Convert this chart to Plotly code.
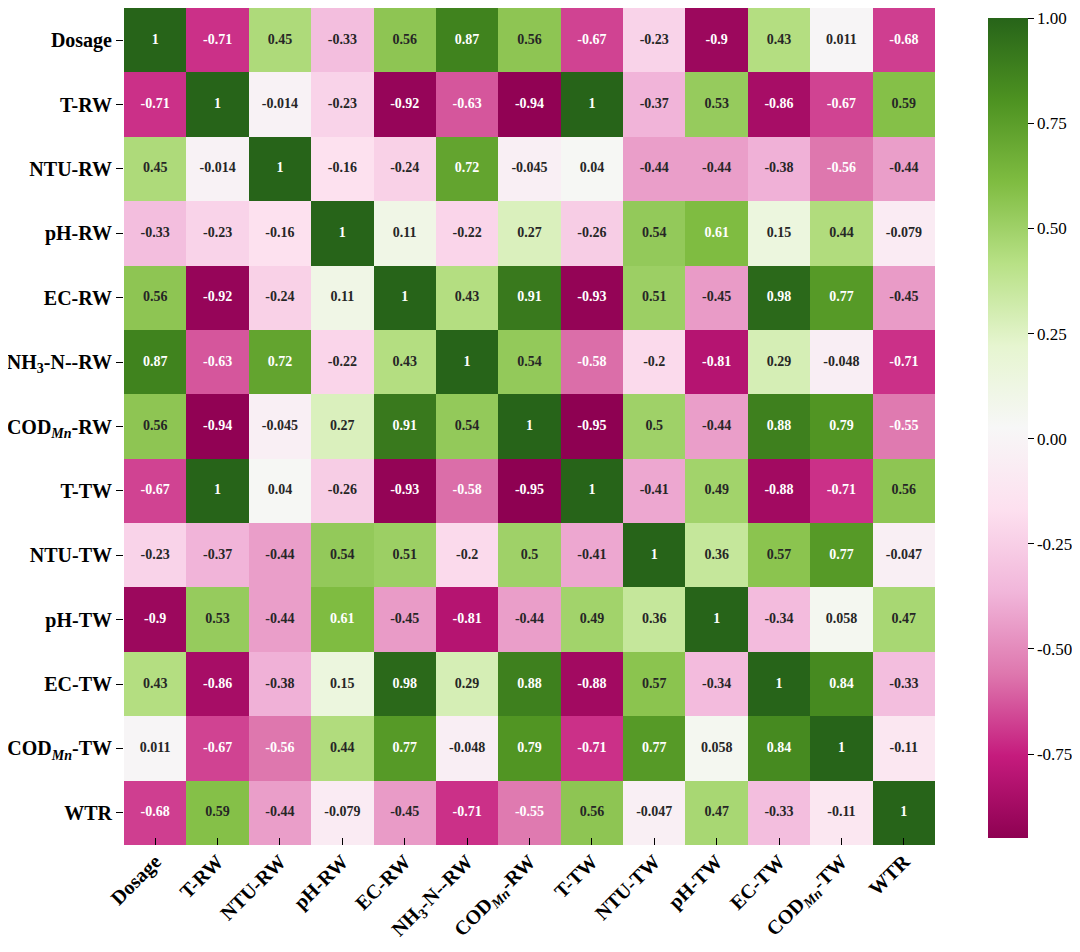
import numpy as np
import plotly.graph_objects as go
from plotly.colors import sample_colorscale, unlabel_rgb
import plotly.express as px

# variable names (rows top to bottom / columns left to right)
labels = [
    "Dosage", "T-RW", "NTU-RW", "pH-RW", "EC-RW",
    "NH<sub>3</sub>-N--RW", "COD<sub><i>Mn</i></sub>-RW",
    "T-TW", "NTU-TW", "pH-TW", "EC-TW",
    "COD<sub><i>Mn</i></sub>-TW", "WTR",
]

# correlation rows
r_dosage = [1, -0.71, 0.45, -0.33, 0.56, 0.87, 0.56, -0.67, -0.23, -0.9, 0.43, 0.011, -0.68]
r_t_rw = [-0.71, 1, -0.014, -0.23, -0.92, -0.63, -0.94, 1, -0.37, 0.53, -0.86, -0.67, 0.59]
r_ntu_rw = [0.45, -0.014, 1, -0.16, -0.24, 0.72, -0.045, 0.04, -0.44, -0.44, -0.38, -0.56, -0.44]
r_ph_rw = [-0.33, -0.23, -0.16, 1, 0.11, -0.22, 0.27, -0.26, 0.54, 0.61, 0.15, 0.44, -0.079]
r_ec_rw = [0.56, -0.92, -0.24, 0.11, 1, 0.43, 0.91, -0.93, 0.51, -0.45, 0.98, 0.77, -0.45]
r_nh3_rw = [0.87, -0.63, 0.72, -0.22, 0.43, 1, 0.54, -0.58, -0.2, -0.81, 0.29, -0.048, -0.71]
r_cod_rw = [0.56, -0.94, -0.045, 0.27, 0.91, 0.54, 1, -0.95, 0.5, -0.44, 0.88, 0.79, -0.55]
r_t_tw = [-0.67, 1, 0.04, -0.26, -0.93, -0.58, -0.95, 1, -0.41, 0.49, -0.88, -0.71, 0.56]
r_ntu_tw = [-0.23, -0.37, -0.44, 0.54, 0.51, -0.2, 0.5, -0.41, 1, 0.36, 0.57, 0.77, -0.047]
r_ph_tw = [-0.9, 0.53, -0.44, 0.61, -0.45, -0.81, -0.44, 0.49, 0.36, 1, -0.34, 0.058, 0.47]
r_ec_tw = [0.43, -0.86, -0.38, 0.15, 0.98, 0.29, 0.88, -0.88, 0.57, -0.34, 1, 0.84, -0.33]
r_cod_tw = [0.011, -0.67, -0.56, 0.44, 0.77, -0.048, 0.79, -0.71, 0.77, 0.058, 0.84, 1, -0.11]
r_wtr = [-0.68, 0.59, -0.44, -0.079, -0.45, -0.71, -0.55, 0.56, -0.047, 0.47, -0.33, -0.11, 1]

rows = [r_dosage, r_t_rw, r_ntu_rw, r_ph_rw, r_ec_rw, r_nh3_rw, r_cod_rw,
        r_t_tw, r_ntu_tw, r_ph_tw, r_ec_tw, r_cod_tw, r_wtr]

cbar_vals = [1.0, 0.75, 0.5, 0.25, 0.0, -0.25, -0.5, -0.75]
cbar_text = ["1.00", "0.75", "0.50", "0.25", "0.00", "-0.25", "-0.50", "-0.75"]

z = np.array(rows, dtype=float)
zmin, zmax = z.min(), z.max()
scale = px.colors.diverging.PiYG
n = len(labels)


def text_color(v):
    # seaborn style: dark text on light cells, white on dark
    c = sample_colorscale(scale, [(v - zmin) / (zmax - zmin)])[0]
    rgb = np.array(unlabel_rgb(c)) / 255.0
    rgb = np.where(rgb <= 0.03928, rgb / 12.92, ((rgb + 0.055) / 1.055) ** 2.4)
    lum = rgb.dot([0.2126, 0.7152, 0.0722])
    return "#262626" if lum > 0.415 else "white"


xs, ys, txt, cols = [], [], [], []
for i, row in enumerate(rows):
    for j, v in enumerate(row):
        xs.append(labels[j])
        ys.append(labels[i])
        txt.append(f"{v:.2g}")
        cols.append(text_color(v))

fig = go.Figure()
fig.add_trace(go.Heatmap(
    z=z, x=labels, y=labels, colorscale=scale, zmin=zmin, zmax=zmax,
    colorbar=dict(
        x=1.064, xanchor="left", thickness=40, len=0.98, y=0.498, yanchor="middle",
        xpad=0, ypad=0,
        tickvals=cbar_vals, ticktext=cbar_text, ticks="outside", ticklen=6,
        tickcolor="black", outlinewidth=0,
        tickfont=dict(family="Liberation Serif", size=17, color="black"),
    ),
    hoverinfo="skip",
))
fig.add_trace(go.Scatter(
    x=xs, y=ys, mode="text", text=txt,
    textfont=dict(family="Liberation Serif", size=14, color=cols, weight="bold"),
    showlegend=False, hoverinfo="skip",
))

# page body adds 8px around the figure, so the figure is sized to fit inside
fig.update_layout(
    width=1064, height=936,
    margin=dict(l=116, r=136, t=0, b=99),
    paper_bgcolor="white", plot_bgcolor="white",
    font=dict(family="Liberation Serif", color="black"),
    xaxis=dict(
        range=[-0.5, n - 0.5],
        tickangle=-45, ticks="inside", ticklen=7, tickcolor="black",
        tickfont=dict(size=20, weight="bold"), showgrid=False, zeroline=False,
        showline=False, automargin=False,
    ),
    yaxis=dict(
        range=[n - 0.5, -0.5], ticks="outside", ticklen=7, tickcolor="black",
        tickfont=dict(size=20, weight="bold"), showgrid=False, zeroline=False,
        showline=False, automargin=False,
    ),
)

fig.write_html("out.html")
